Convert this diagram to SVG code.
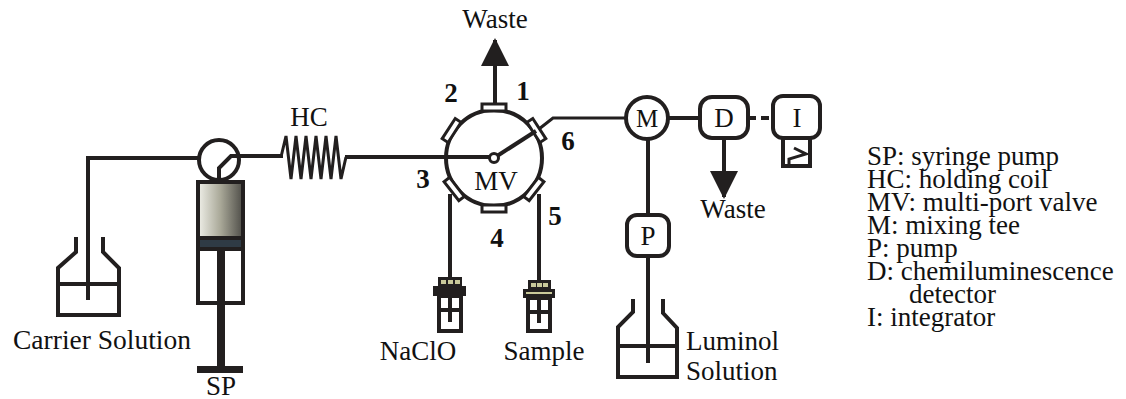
<svg xmlns="http://www.w3.org/2000/svg" width="1126" height="399" viewBox="0 0 1126 399">
<defs>
<linearGradient id="barrel" x1="0" y1="0" x2="1" y2="0">
<stop offset="0" stop-color="#efefe8"/>
<stop offset="0.5" stop-color="#a9a898"/>
<stop offset="1" stop-color="#4e4d48"/>
</linearGradient>
<marker id="arrow" viewBox="0 0 28 28" refX="26" refY="14" markerWidth="28" markerHeight="28" markerUnits="userSpaceOnUse" orient="auto">
<path d="M0,0 L28,14 L0,28 Z" fill="#221f1f"/>
</marker>
</defs>
<style>
.ln{fill:none;stroke:#221f1f;stroke-width:4}
.thin{fill:none;stroke:#221f1f;stroke-width:3}
.box{fill:#fff;stroke:#221f1f;stroke-width:4}
.port{fill:#fff;stroke:#221f1f;stroke-width:3}
.b{font-weight:bold}
.k{fill:#c9c99a}
</style>

<g id="connectors">
<polyline class="ln" points="88,300 88,158 199,158"/>
<polyline class="ln" points="219,182 219,168 231,156 283,156"/>
<polyline class="thin" points="281,157 286,136 291,179 296,136 301,179 306,136 311,179 316,136 321,179 326,136 331,179 336,136 341,179 346,157"/>
<line class="ln" x1="345" y1="157" x2="490" y2="157"/>
<line class="ln" x1="495" y1="104" x2="495" y2="40" marker-end="url(#arrow)"/>
<polyline class="thin" points="539,129 553,118 626,118"/>
<line class="ln" x1="450" y1="194" x2="450" y2="278"/>
<line class="ln" x1="539" y1="194" x2="539" y2="281"/>
<line class="ln" x1="668" y1="118" x2="700" y2="118"/>
<line class="ln" x1="748" y1="118" x2="773" y2="118" stroke-dasharray="8 5"/>
<line class="ln" x1="724" y1="138" x2="724" y2="197" marker-end="url(#arrow)"/>
<line class="ln" x1="648" y1="139" x2="648" y2="215"/>
<line class="ln" x1="648" y1="256" x2="648" y2="363"/>
</g>

<g font-family="Liberation Serif, Times New Roman, serif" font-size="27" fill="#111">
<g id="carrier">
<polyline class="ln" points="76,237 76,252 58,268 58,315 119,315 119,268 103,252 103,237"/>
<line class="ln" x1="58" y1="284" x2="119" y2="284"/>
<text x="102" y="349" text-anchor="middle" font-size="27.5">Carrier Solution</text>
</g>

<g id="SP">
<circle cx="219" cy="160" r="20" fill="none" stroke="#221f1f" stroke-width="4"/>
<rect x="198" y="182" width="45" height="56" fill="url(#barrel)" stroke="#221f1f" stroke-width="4"/>
<rect x="198" y="238" width="45" height="11" fill="#2f3b45" stroke="#221f1f" stroke-width="4"/>
<rect x="198" y="249" width="45" height="54" class="box"/>
<line x1="221" y1="249" x2="221" y2="368" stroke="#221f1f" stroke-width="8"/>
<rect x="197" y="366" width="46" height="7" fill="#221f1f"/>
<text x="221" y="395" text-anchor="middle">SP</text>
</g>

<g id="HC">
<text x="309" y="126" text-anchor="middle">HC</text>
</g>

<g id="MV">
<circle cx="494" cy="158" r="48" fill="none" stroke="#221f1f" stroke-width="4"/>
<g transform="translate(494,158)">
<rect class="port" x="-12" y="-54" width="24" height="7"/>
<rect class="port" x="-12" y="-54" width="24" height="7" transform="rotate(-57)"/>
<rect class="port" x="-12" y="-54" width="24" height="7" transform="rotate(57)"/>
<rect class="port" x="-12" y="-54" width="24" height="7" transform="rotate(-128)"/>
<rect class="port" x="-12" y="-54" width="24" height="7" transform="rotate(128)"/>
<rect class="port" x="-12" y="-54" width="24" height="7" transform="rotate(180)"/>
<line class="ln" x1="0" y1="0" x2="42" y2="-27"/>
<circle r="4.5" fill="#fff" stroke="#221f1f" stroke-width="3"/>
</g>
<text x="496" y="190" text-anchor="middle">MV</text>
<text class="b" x="523" y="100" text-anchor="middle">1</text>
<text class="b" x="451" y="102" text-anchor="middle">2</text>
<text class="b" x="423" y="188" text-anchor="middle">3</text>
<text class="b" x="497" y="247" text-anchor="middle">4</text>
<text class="b" x="555" y="225" text-anchor="middle">5</text>
<text class="b" x="568" y="150" text-anchor="middle">6</text>
<text x="495" y="28" text-anchor="middle">Waste</text>
</g>

<g id="NaClO">
<rect x="438" y="277" width="24" height="10" fill="#221f1f"/>
<rect class="k" x="441" y="280" width="5" height="4"/>
<rect class="k" x="448" y="280" width="5" height="4"/>
<rect class="k" x="455" y="280" width="5" height="4"/>
<rect x="433" y="286" width="33" height="10" fill="#221f1f"/>
<rect x="439" y="296" width="22" height="35" class="box"/>
<line class="ln" x1="439" y1="310" x2="461" y2="310"/>
<line class="ln" x1="450" y1="296" x2="450" y2="322"/>
<text x="418" y="360" text-anchor="middle">NaClO</text>
</g>

<g id="Sample">
<rect x="528" y="280" width="23" height="9" fill="#221f1f"/>
<rect class="k" x="531" y="283" width="5" height="4"/>
<rect class="k" x="537" y="283" width="5" height="4"/>
<rect class="k" x="543" y="283" width="5" height="4"/>
<rect x="523" y="289" width="32" height="9" fill="#221f1f"/>
<rect class="k" x="526" y="292" width="26" height="2"/>
<rect x="528" y="298" width="22" height="33" class="box"/>
<line class="ln" x1="528" y1="312" x2="550" y2="312"/>
<line class="ln" x1="539" y1="298" x2="539" y2="323"/>
<text x="544" y="360" text-anchor="middle">Sample</text>
</g>

<g id="M">
<circle cx="647" cy="118" r="21" class="box"/>
<text x="647" y="127" text-anchor="middle" font-size="25">M</text>
</g>

<g id="D">
<rect x="700" y="97" width="48" height="41" rx="12" class="box"/>
<text x="724" y="127" text-anchor="middle">D</text>
<text x="733" y="218" text-anchor="middle">Waste</text>
</g>

<g id="I">
<rect x="783" y="137" width="27" height="29" class="box"/>
<polyline class="thin" points="789,166 789,159 806,154 794,148"/>
<rect x="773" y="96" width="47" height="42" rx="10" class="box"/>
<text x="797" y="127" text-anchor="middle">I</text>
</g>

<g id="P">
<rect x="627" y="215" width="42" height="41" rx="10" class="box"/>
<text x="648" y="245" text-anchor="middle">P</text>
</g>

<g id="luminol">
<polyline class="ln" points="633,299 633,312 618,327 618,377 677,377 677,328 663,313 663,299"/>
<line class="ln" x1="618" y1="346" x2="677" y2="346"/>
<text x="686" y="350">Luminol</text>
<text x="686" y="380">Solution</text>
</g>

<g id="legend">
<text x="867" y="165">SP: syringe pump</text>
<text x="867" y="188">HC: holding coil</text>
<text x="867" y="211">MV: multi-port valve</text>
<text x="867" y="234">M: mixing tee</text>
<text x="867" y="257">P: pump</text>
<text x="867" y="280">D: chemiluminescence</text>
<text x="909" y="303">detector</text>
<text x="867" y="326">I: integrator</text>
</g>
</g>
</svg>
